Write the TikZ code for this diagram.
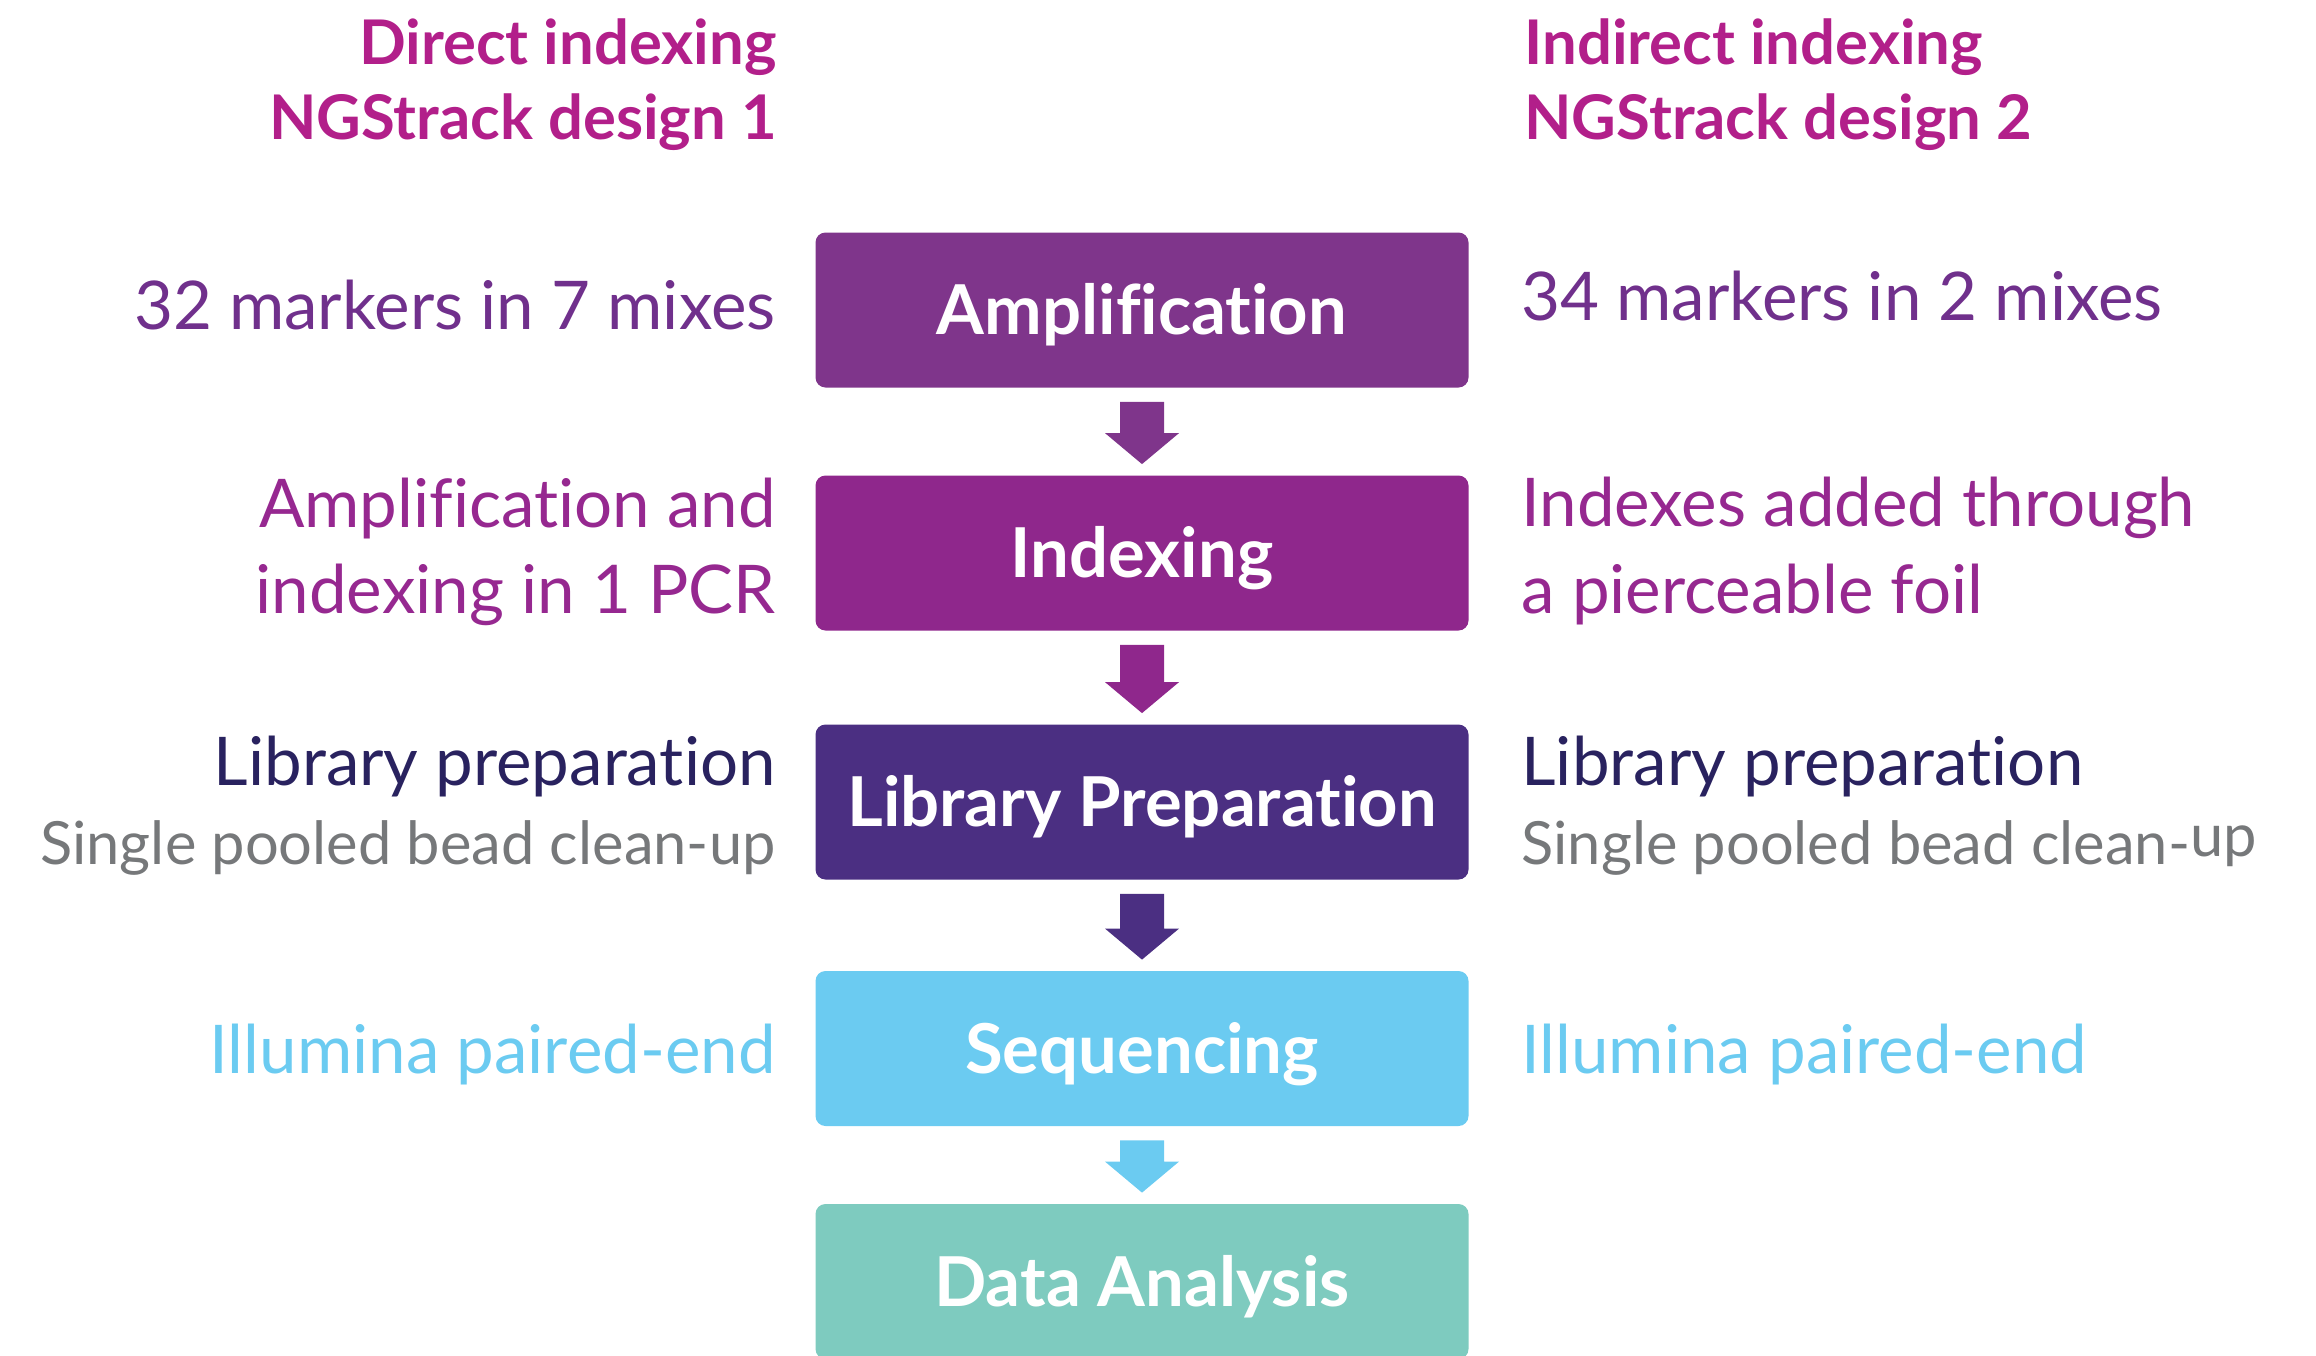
\documentclass[tikz,border=0pt]{standalone}
\usepackage{fontspec}
\setmainfont{Lato}[Ligatures=NoCommon]
\usetikzlibrary{calc}

\definecolor{ampC}{HTML}{7F358B}
\definecolor{idxC}{HTML}{8F278C}
\definecolor{libC}{HTML}{4B2F82}
\definecolor{seqC}{HTML}{6BCBF1}
\definecolor{datC}{HTML}{7ECBBF}
\definecolor{headC}{HTML}{B21F8A}
\definecolor{mkC}{HTML}{70308C}
\definecolor{ixC}{HTML}{962890}
\definecolor{navyC}{HTML}{29225F}
\definecolor{greyC}{HTML}{76787A}

% block arrow joining two stacked steps
\newcommand\flowarrow[3]{%
  \fill[#3] ($(#1.south)+(-22,14)$) -- ($(#1.south)+(22,14)$)
    -- ($(#2.north)+(22,-42)$) -- ($(#2.north)+(37,-42)$)
    -- ($(#2.north)+(0,-11)$)
    -- ($(#2.north)+(-37,-42)$) -- ($(#2.north)+(-22,-42)$) -- cycle;}

\begin{document}
\begin{tikzpicture}[x=0.5pt,y=-0.5pt,
  stepbox/.style={rectangle, rounded corners=5pt, minimum width=326.5pt,
    minimum height=77.5pt, inner sep=0pt, text=white,
    font=\fontsize{34.4}{40}\selectfont\bfseries, text height=24.6pt, text depth=0pt},
  heading/.style={text=headC, font=\fontsize{30.8}{36}\selectfont\bfseries, inner sep=0pt},
  side/.style={font=\fontsize{33.6}{40}\selectfont, inner sep=0pt},
  sidesmall/.style={font=\fontsize{29.8}{34}\selectfont, inner sep=0pt, text=greyC},
  lft/.style={anchor=base east},
  rgt/.style={anchor=base west}]

\useasboundingbox (0,0) rectangle (2316,1355);

% process steps
\node[stepbox, fill=ampC] (amp) at (1142,310) {Amplification};
\node[stepbox, fill=idxC] (idx) at (1142,553) {Indexing};
\node[stepbox, fill=libC] (lib) at (1142,802) {Library Preparation};
\node[stepbox, fill=seqC] (seq) at (1142,1048.5) {Sequencing};
\node[stepbox, fill=datC] (dat) at (1142,1281.5) {Data Analysis};

\flowarrow{amp}{idx}{ampC}
\flowarrow{idx}{lib}{idxC}
\flowarrow{lib}{seq}{libC}
\flowarrow{seq}{dat}{seqC}

% column headings
\node[heading, lft] (h1a) at (777,64) {Direct indexing};
\node[heading, lft] (h1b) at (777,139) {NGStrack design 1};
\node[heading, rgt] (h2a) at (1524,64) {Indirect indexing};
\node[heading, rgt] (h2b) at (1524,139) {NGStrack design 2};

% design 1 notes
\node[side, lft, text=mkC] (l1) at (776,329) {32 markers in 7 mixes};
\node[side, lft, text=ixC] (l2a) at (776,527) {Amplification and};
\node[side, lft, text=ixC] (l2b) at (776,613) {indexing in 1 PCR};
\node[side, lft, text=navyC] (l3a) at (776,785) {Library preparation};
\node[sidesmall, lft] (l3b) at (776,864) {Single pooled bead clean-up};
\node[side, lft, text=seqC] (l4) at (776,1073) {Illumina paired-end};

% design 2 notes
\node[side, rgt, text=mkC] (r1) at (1521,320) {34 markers in 2 mixes};
\node[side, rgt, text=ixC] (r2a) at (1521,526) {Indexes added through};
\node[side, rgt, text=ixC] (r2b) at (1521,613) {a pierceable foil};
\node[side, rgt, text=navyC] (r3a) at (1521,785) {Library preparation};
\node[sidesmall, rgt] (r3b) at (1521,864) {Single pooled bead clean-\raisebox{4pt}{up}};
\node[side, rgt, text=seqC] (r4) at (1521,1073) {Illumina paired-end};
\end{tikzpicture}
\end{document}
